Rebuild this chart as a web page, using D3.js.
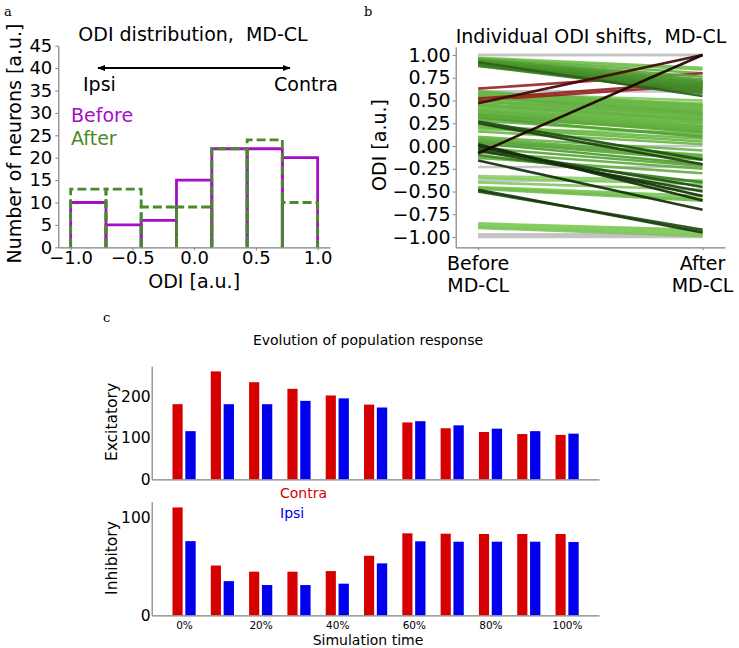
<!DOCTYPE html>
<html><head><meta charset="utf-8">
<script src="https://cdn.jsdelivr.net/npm/d3@7"></script>
<style>
body{margin:0;background:#fff}
svg{display:block}
text{font-family:"DejaVu Sans",sans-serif;fill:#000}
.serif{font-family:"DejaVu Serif","Liberation Serif",serif}
</style>
</head><body>
<svg id="chart" width="739" height="648"></svg>
<script>
// ---------------- DATA ----------------
// Panel a: ODI histogram
const odiBinEdges = [-1, -0.714, -0.429, -0.143, 0.143, 0.429, 0.714, 1];
const countsBefore = [10, 5, 6, 15, 22, 22, 20];
const countsAfter  = [13, 13, 9, 9, 22, 24, 10];
const histYTicks = [0, 5, 10, 15, 20, 25, 30, 35, 40, 45];
const histXTicks = [-1, -0.5, 0, 0.5, 1];

// Panel b: individual ODI shifts (before -> after)
const odiBefore = [
  1.00,1.00,0.97,0.96,0.96,0.95,0.95,0.94,0.93,0.93,0.92,0.92,0.91,0.91,0.90,0.90,0.89,0.89,0.88,0.92,
  0.63,0.52,0.50,0.47,0.60,0.47,0.60,0.58,0.57,0.55,0.54,0.53,0.52,0.50,0.49,0.48,0.46,0.45,0.44,0.44,0.58,0.55,
  0.42,0.41,0.40,0.40,0.39,0.38,0.37,0.36,0.35,0.35,0.34,0.33,0.32,0.31,0.30,0.28,0.27,0.25,0.22,0.20,0.18,0.16,
  0.00,-0.08,0.10,0.08,0.06,0.05,0.03,0.02,0.00,-0.02,-0.03,-0.05,-0.07,-0.10,-0.13,
  -0.16,-0.23,-0.33,-0.35,-0.38,-0.40,
  -0.45,-0.46,-0.47,-0.48,-0.50,
  -0.85,-0.86,-0.87,-0.88,-0.89,-0.90,-0.97,-0.98,-0.99,-1.00
];
const odiAfter = [
  1.00,1.00,0.86,0.84,0.80,0.76,0.73,0.71,0.70,0.69,0.68,0.67,0.66,0.65,0.64,0.63,0.62,0.60,0.58,0.55,
  0.80,0.70,0.67,1.00,0.60,0.47,0.45,0.44,0.42,0.40,0.38,0.36,0.45,0.35,0.33,0.43,0.30,0.40,0.28,0.38,0.50,0.47,
  0.35,0.30,0.25,0.32,0.28,0.22,0.27,0.20,0.18,0.25,0.15,0.22,0.17,0.10,0.20,0.12,-0.15,-0.20,0.08,0.05,0.15,0.02,
  0.00,1.00,-0.05,-0.10,-0.12,-0.15,-0.20,-0.60,-0.55,-0.22,-0.45,-0.50,-0.25,-0.40,-0.30,
  -0.70,-0.23,-0.38,-0.42,-0.38,-0.48,
  -0.55,-0.58,-0.60,-0.95,-0.92,
  -0.92,-0.93,-0.94,-0.95,-0.97,-0.99,-0.97,-0.98,-0.99,-1.00
];
const shiftYTicks = [-1, -0.75, -0.5, -0.25, 0, 0.25, 0.5, 0.75, 1];
const shiftXLabels = [["Before", "MD-CL"], ["After", "MD-CL"]];

// Panel c: population response
const timeLabels = ["0%","10%","20%","30%","40%","50%","60%","70%","80%","90%","100%"];
const tickedTimes = ["0%","20%","40%","60%","80%","100%"];
const excContra = [181, 260, 234, 218, 202, 180, 137, 123, 114, 109, 107];
const excIpsi   = [116, 181, 181, 189, 195, 173, 140, 130, 122, 116, 110];
const inhContra = [110.5, 51, 44.7, 44.7, 45.3, 61, 84, 83.6, 83.3, 83.3, 83.3];
const inhIpsi   = [76, 35, 31, 31, 32.4, 53.2, 75.8, 75.4, 75.4, 75.4, 75.1];
const excTicks = [0, 100, 200];
const inhTicks = [0, 100];

// ---------------- DRAW ----------------
const svg = d3.select("#chart");
const spine = "#808080";
const purple = "#a50ec8", green = "#4a8a2a";
const red = "#d60000", blue = "#0000ee";

function styleAxis(g){
  g.selectAll(".domain").attr("stroke", spine).attr("stroke-width", 1.2);
  g.selectAll(".tick line").attr("stroke", spine);
  g.selectAll(".tick text").attr("fill", "#000");
}

// panel labels
svg.append("text").attr("class","serif").attr("x",4).attr("y",16).attr("font-size",13).text("a");
svg.append("text").attr("class","serif").attr("x",364).attr("y",16).attr("font-size",13).text("b");
svg.append("text").attr("class","serif").attr("x",103).attr("y",322).attr("font-size",13).text("c");

// ===== Panel a =====
const xA = d3.scaleLinear().domain([-1.1, 1.1]).range([58.3, 330]);
const yA = d3.scaleLinear().domain([0, 45]).range([247.3, 45.7]);
const gA = svg.append("g");

function binPath(i, c){
  const x0 = xA(odiBinEdges[i]), x1 = xA(odiBinEdges[i+1]), y0 = yA(0), y1 = yA(c);
  return `M${x0},${y0}V${y1}H${x1}V${y0}`;
}
gA.append("g").selectAll("path").data(countsBefore).join("path")
  .attr("d",(c,i)=>binPath(i,c)).attr("fill","none").attr("stroke",purple).attr("stroke-width",2.8);
gA.append("g").selectAll("path").data(countsAfter).join("path")
  .attr("d",(c,i)=>binPath(i,c)).attr("fill","none").attr("stroke",green).attr("stroke-width",2.8)
  .attr("stroke-dasharray","9,4");

const axAx = gA.append("g").attr("transform",`translate(0,${yA(0)})`)
  .call(d3.axisBottom(xA).tickValues(histXTicks).tickFormat(d3.format(".1f")).tickSize(3).tickSizeOuter(0).tickPadding(1));
axAx.attr("font-size",18).attr("font-family","DejaVu Sans");
styleAxis(axAx);
const ayAx = gA.append("g").attr("transform",`translate(${xA(-1.1)},0)`)
  .call(d3.axisLeft(yA).tickValues(histYTicks).tickSize(3).tickSizeOuter(0).tickPadding(3));
ayAx.attr("font-size",18).attr("font-family","DejaVu Sans");
styleAxis(ayAx);

gA.append("text").attr("x",193).attr("y",41).attr("text-anchor","middle").attr("font-size",19)
  .attr("xml:space","preserve").text("ODI distribution,  MD-CL");
gA.append("text").attr("transform","translate(21,143.5) rotate(-90)").attr("text-anchor","middle")
  .attr("font-size",19).text("Number of neurons [a.u.]");
gA.append("text").attr("x",xA(0)).attr("y",288).attr("text-anchor","middle").attr("font-size",19).text("ODI [a.u.]");

// arrow
const defs = svg.append("defs");
defs.append("marker").attr("id","ah").attr("viewBox","0 0 10 10").attr("refX",9).attr("refY",5)
  .attr("markerWidth",4).attr("markerHeight",4).attr("orient","auto-start-reverse")
  .append("path").attr("d","M0,1L10,5L0,9z").attr("fill","#000");
gA.append("line").attr("x1",98).attr("x2",290).attr("y1",68).attr("y2",68)
  .attr("stroke","#000").attr("stroke-width",2)
  .attr("marker-start","url(#ah)").attr("marker-end","url(#ah)");
gA.append("text").attr("x",83).attr("y",91).attr("font-size",19).text("Ipsi");
gA.append("text").attr("x",274).attr("y",91).attr("font-size",19).text("Contra");
gA.append("text").attr("x",71).attr("y",122).attr("font-size",19).style("fill",purple).text("Before");
gA.append("text").attr("x",71).attr("y",144.5).attr("font-size",19).style("fill",green).text("After");

// ===== Panel b =====
const xB = d3.scaleLinear().domain([-0.1, 1.1]).range([455.7, 725]);
const yB = d3.scaleLinear().domain([-1.113, 1.091]).range([247.3, 46.7]);
const gB = svg.append("g");

const greenScale = d3.scaleLinear().domain([-0.02,-0.12,-0.22,-0.35,-0.5])
  .range(["#95d873","#74c050","#529e33","#2d6a1a","#142e0a"]).clamp(true);
const redScale = d3.scaleLinear().domain([0.1,0.3,0.55,1.1])
  .range(["#a53030","#7a1515","#3e0505","#1e0000"]).clamp(true);
function shiftColor(d){
  const delta = d.a - d.b;
  if (Math.abs(delta) < 0.015) return "#c2c2c2";
  return delta < 0 ? greenScale(delta) : redScale(delta);
}
const pairs = odiBefore.map((b,i)=>({b, a: odiAfter[i]}))
  .sort((p,q)=>Math.abs(p.a-p.b)-Math.abs(q.a-q.b));
gB.append("g").selectAll("line").data(pairs).join("line")
  .attr("x1",xB(0)).attr("x2",xB(1)).attr("y1",d=>yB(d.b)).attr("y2",d=>yB(d.a))
  .attr("stroke",shiftColor).attr("stroke-width",2.6).attr("stroke-opacity",0.92);

const bxAx = gB.append("g").attr("transform",`translate(0,${yB.range()[0]})`)
  .call(d3.axisBottom(xB).tickValues([0,1]).tickFormat("").tickSize(3).tickSizeOuter(0));
styleAxis(bxAx);
const byAx = gB.append("g").attr("transform",`translate(${xB.range()[0]},0)`)
  .call(d3.axisLeft(yB).tickValues(shiftYTicks).tickFormat(d3.format(".2f")).tickSize(3).tickSizeOuter(0).tickPadding(2));
byAx.attr("font-size",19).attr("font-family","DejaVu Sans");
styleAxis(byAx);
shiftXLabels.forEach((lines,i)=>{
  lines.forEach((s,j)=>{
    gB.append("text").attr("x",xB(i)).attr("y",270+j*21.5).attr("text-anchor","middle").attr("font-size",19).text(s);
  });
});
gB.append("text").attr("x",591).attr("y",43).attr("text-anchor","middle").attr("font-size",19)
  .attr("xml:space","preserve").text("Individual ODI shifts,  MD-CL");
gB.append("text").attr("transform","translate(386,145) rotate(-90)").attr("text-anchor","middle")
  .attr("font-size",19).text("ODI [a.u.]");

// ===== Panel c =====
const xC = d3.scaleLinear().domain([-0.843, 10.835]).range([151.7, 599]);
const yTop = d3.scaleLinear().domain([0, 273]).range([479.3, 366]);
const yBot = d3.scaleLinear().domain([0, 116.4]).range([615.3, 501.7]);
const gC = svg.append("g");

function drawBars(g, y, contra, ipsi){
  g.append("g").selectAll("rect").data(contra).join("rect")
    .attr("x",(d,i)=>xC(i-0.3)).attr("width",xC(-0.035)-xC(-0.3))
    .attr("y",d=>y(d)).attr("height",d=>y(0)-y(d)).attr("fill",red);
  g.append("g").selectAll("rect").data(ipsi).join("rect")
    .attr("x",(d,i)=>xC(i+0.035)).attr("width",xC(0.305)-xC(0.035))
    .attr("y",d=>y(d)).attr("height",d=>y(0)-y(d)).attr("fill",blue);
}
drawBars(gC, yTop, excContra, excIpsi);
drawBars(gC, yBot, inhContra, inhIpsi);

const tickIdx = tickedTimes.map(t=>timeLabels.indexOf(t));
// top axes
const cx1 = gC.append("g").attr("transform",`translate(0,${yTop(0)})`)
  .call(d3.axisBottom(xC).tickValues([]).tickSizeOuter(0));
styleAxis(cx1);
const cy1 = gC.append("g").attr("transform",`translate(${xC.range()[0]},0)`)
  .call(d3.axisLeft(yTop).tickValues(excTicks).tickSize(0).tickSizeOuter(0).tickPadding(1));
cy1.attr("font-size",15.5).attr("font-family","DejaVu Sans");
styleAxis(cy1);
// bottom axes
const cx2 = gC.append("g").attr("transform",`translate(0,${yBot(0)})`)
  .call(d3.axisBottom(xC).tickValues(tickIdx).tickFormat(i=>timeLabels[i]).tickSize(0).tickSizeOuter(0).tickPadding(6));
cx2.attr("font-size",10.5).attr("font-family","DejaVu Sans");
styleAxis(cx2);
const cy2 = gC.append("g").attr("transform",`translate(${xC.range()[0]},0)`)
  .call(d3.axisLeft(yBot).tickValues(inhTicks).tickSize(0).tickSizeOuter(0).tickPadding(1));
cy2.attr("font-size",15.5).attr("font-family","DejaVu Sans");
styleAxis(cy2);

gC.append("text").attr("x",368).attr("y",345).attr("text-anchor","middle").attr("font-size",14)
  .text("Evolution of population response");
gC.append("text").attr("transform","translate(117,422) rotate(-90)").attr("text-anchor","middle")
  .attr("font-size",15.5).text("Excitatory");
gC.append("text").attr("transform","translate(117,558) rotate(-90)").attr("text-anchor","middle")
  .attr("font-size",15.5).text("Inhibitory");
gC.append("text").attr("x",368).attr("y",645).attr("text-anchor","middle").attr("font-size",14)
  .text("Simulation time");
gC.append("text").attr("x",280).attr("y",497.5).attr("font-size",14).style("fill",red).text("Contra");
gC.append("text").attr("x",280).attr("y",517.5).attr("font-size",14).style("fill",blue).text("Ipsi");
</script>
</body></html>
